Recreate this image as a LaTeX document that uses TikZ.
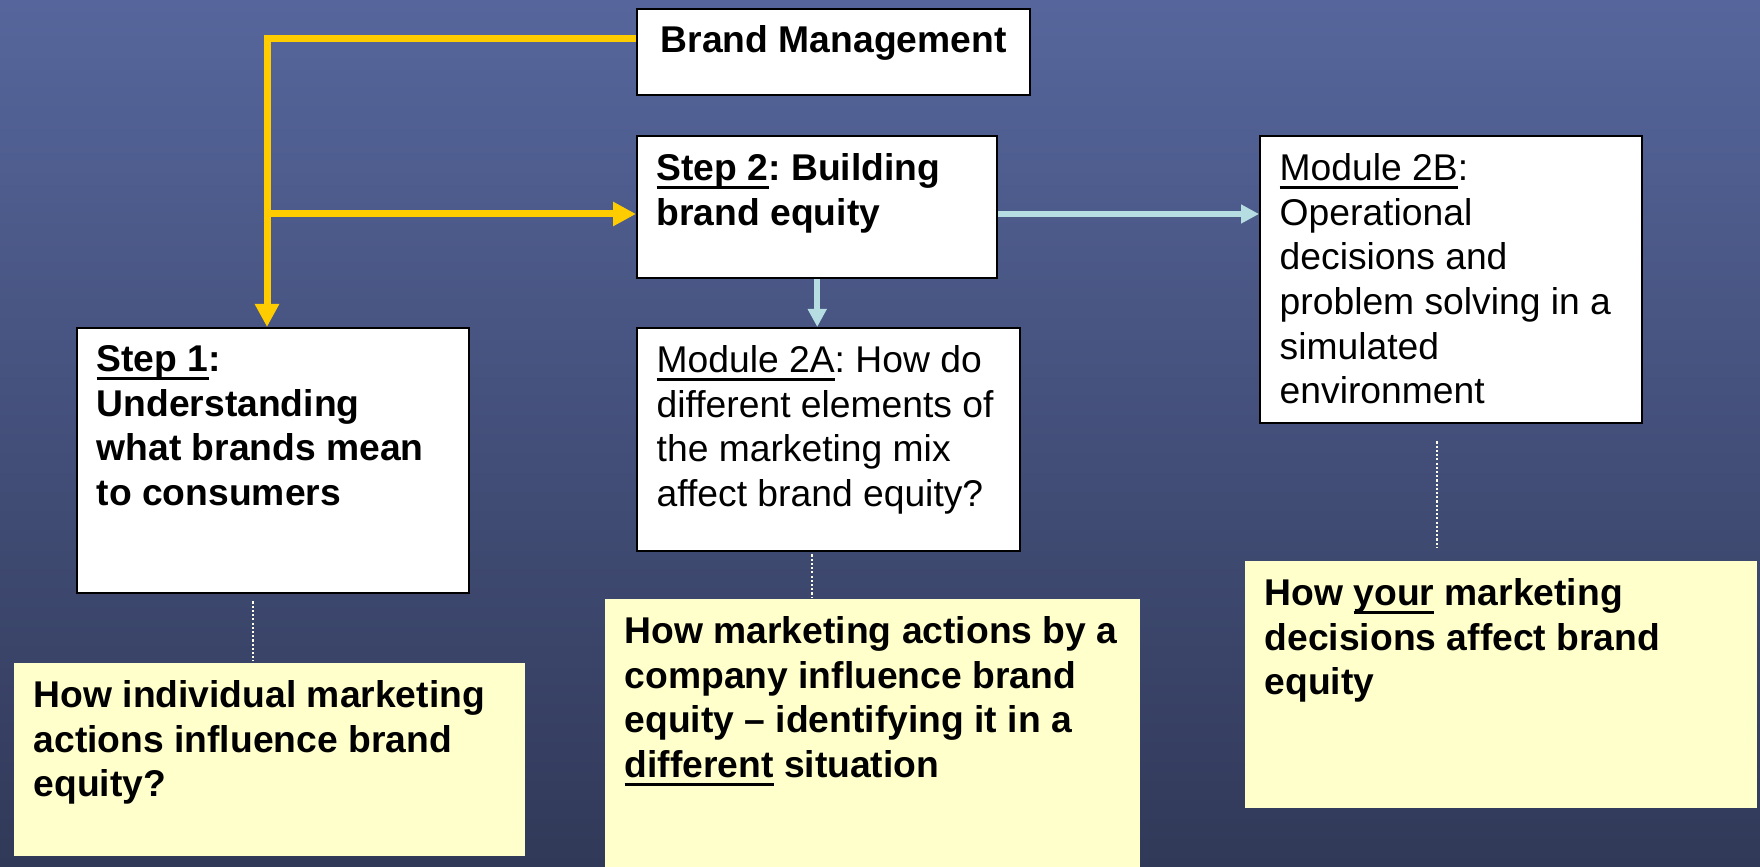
\documentclass[tikz,border=0pt]{standalone}
\usepackage{fontspec}
\setmainfont{Liberation Sans}
\usetikzlibrary{arrows.meta}

\definecolor{slidetop}{RGB}{86,102,156}
\definecolor{slidebottom}{RGB}{49,57,88}
\definecolor{gold}{RGB}{255,204,0}
\definecolor{paleblue}{RGB}{182,222,226}
\definecolor{notefill}{RGB}{255,255,204}
\newcommand{\slidefont}{\fontsize{10.6}{12.7}\selectfont\frenchspacing}
% underline at a fixed depth, whatever the letters
\newcommand{\uword}[1]{\setbox0=\hbox{#1}\rlap{\rule[-0.22em]{\wd0}{0.065em}}\box0\relax}

\begin{document}
\begin{tikzpicture}[
        box/.style={draw=black, line width=0.7pt, fill=white, anchor=north west, inner sep=0pt},
        note/.style={fill=notefill, anchor=north west, inner sep=0pt},
        boxtext/.style={anchor=north west, align=left, inner xsep=0.2cm, inner ysep=0.18cm, font=\slidefont},
        boldtext/.style={boxtext, font=\slidefont\bfseries},
        goldarrow/.style={draw=gold, line width=0.07cm, -{Triangle[width=0.23cm,length=0.23cm]}},
        bluearrow/.style={draw=paleblue, line width=0.06cm, -{Triangle[width=0.18cm,length=0.18cm]}},
        dotline/.style={draw=white!90!yellow, line width=0.5pt, dash pattern=on 0.6pt off 0.6pt}]
        \useasboundingbox (0,0) rectangle (17.6,-8.67);
        \fill[top color=slidetop, bottom color=slidebottom] (0,0) rectangle (17.6,-8.67);

        % white boxes
        \node[box, minimum width=3.93cm, minimum height=0.86cm] (brand) at (6.36,-0.08) {};
        \node[box, minimum width=3.60cm, minimum height=1.42cm] (step2) at (6.36,-1.35) {};
        \node[box, minimum width=3.82cm, minimum height=2.87cm] (mod2b) at (12.59,-1.35) {};
        \node[box, minimum width=3.92cm, minimum height=2.65cm] (step1) at (0.76,-3.27) {};
        \node[box, minimum width=3.83cm, minimum height=2.23cm] (mod2a) at (6.36,-3.27) {};

        % yellow notes
        \node[note, minimum width=5.11cm, minimum height=1.93cm] (note1) at (0.13,-6.62) {};
        \node[note, minimum width=5.35cm, minimum height=2.69cm] (note2) at (6.04,-5.98) {};
        \node[note, minimum width=5.12cm, minimum height=2.47cm] (note3) at (12.44,-5.60) {};

        % texts
        \node[anchor=north, inner sep=0pt, font=\slidefont\bfseries] (brandtxt) at ([yshift=-0.17cm]brand.north) {Brand Management};
        \node[boldtext] (step2txt) at (step2.north west) {\uword{Step 2}: Building\\brand equity};
        \node[boxtext] (mod2btxt) at (mod2b.north west) {\uword{Module 2B}:\\Operational\\decisions and\\problem solving in a\\simulated\\environment};
        \node[boldtext] (step1txt) at (step1.north west) {\uword{Step 1}:\\Understanding\\what brands mean\\to consumers};
        \node[boxtext] (mod2atxt) at (mod2a.north west) {\uword{Module 2A}: How do\\different elements of\\the marketing mix\\affect brand equity?};
        \node[boldtext] (note1txt) at (note1.north west) {How individual marketing\\actions influence brand\\equity?};
        \node[boldtext] (note2txt) at (note2.north west) {How marketing actions by a\\company influence brand\\equity -- identifying it in a\\\uword{different} situation};
        \node[boldtext] (note3txt) at (note3.north west) {How \uword{your} marketing\\decisions affect brand\\equity};

        % connectors
        \coordinate (corner) at (2.67,-0.39);
        \coordinate (fork) at (2.67,-2.14);
        \draw[goldarrow] (brand.west |- corner) -- (corner) -- (corner |- step1.north);
        \draw[goldarrow] (fork) -- (fork -| step2.west);
        \draw[bluearrow] (step2.south) -- (step2.south |- mod2a.north);
        \draw[bluearrow] (step2.east |- fork) -- (mod2b.west |- fork);

        % dotted links down to the notes
        \coordinate (dot1) at ([xshift=-0.2cm]step1.south);
        \coordinate (dot1end) at (dot1 |- note1.north);
        \draw[dotline] ([yshift=-0.07cm]dot1) -- ([yshift=0.01cm]dot1end);
        \coordinate (dot2) at ([xshift=-0.165cm]mod2a.south);
        \coordinate (dot2end) at (dot2 |- note2.north);
        \draw[dotline] ([yshift=-0.02cm]dot2) -- ([yshift=0.01cm]dot2end);
        \coordinate (dot3) at ([xshift=-0.14cm]mod2b.south);
        \coordinate (dot3end) at (dot3 |- note3.north);
        \draw[dotline] ([yshift=-0.17cm]dot3) -- ([yshift=0.12cm]dot3end);
\end{tikzpicture}
\end{document}
